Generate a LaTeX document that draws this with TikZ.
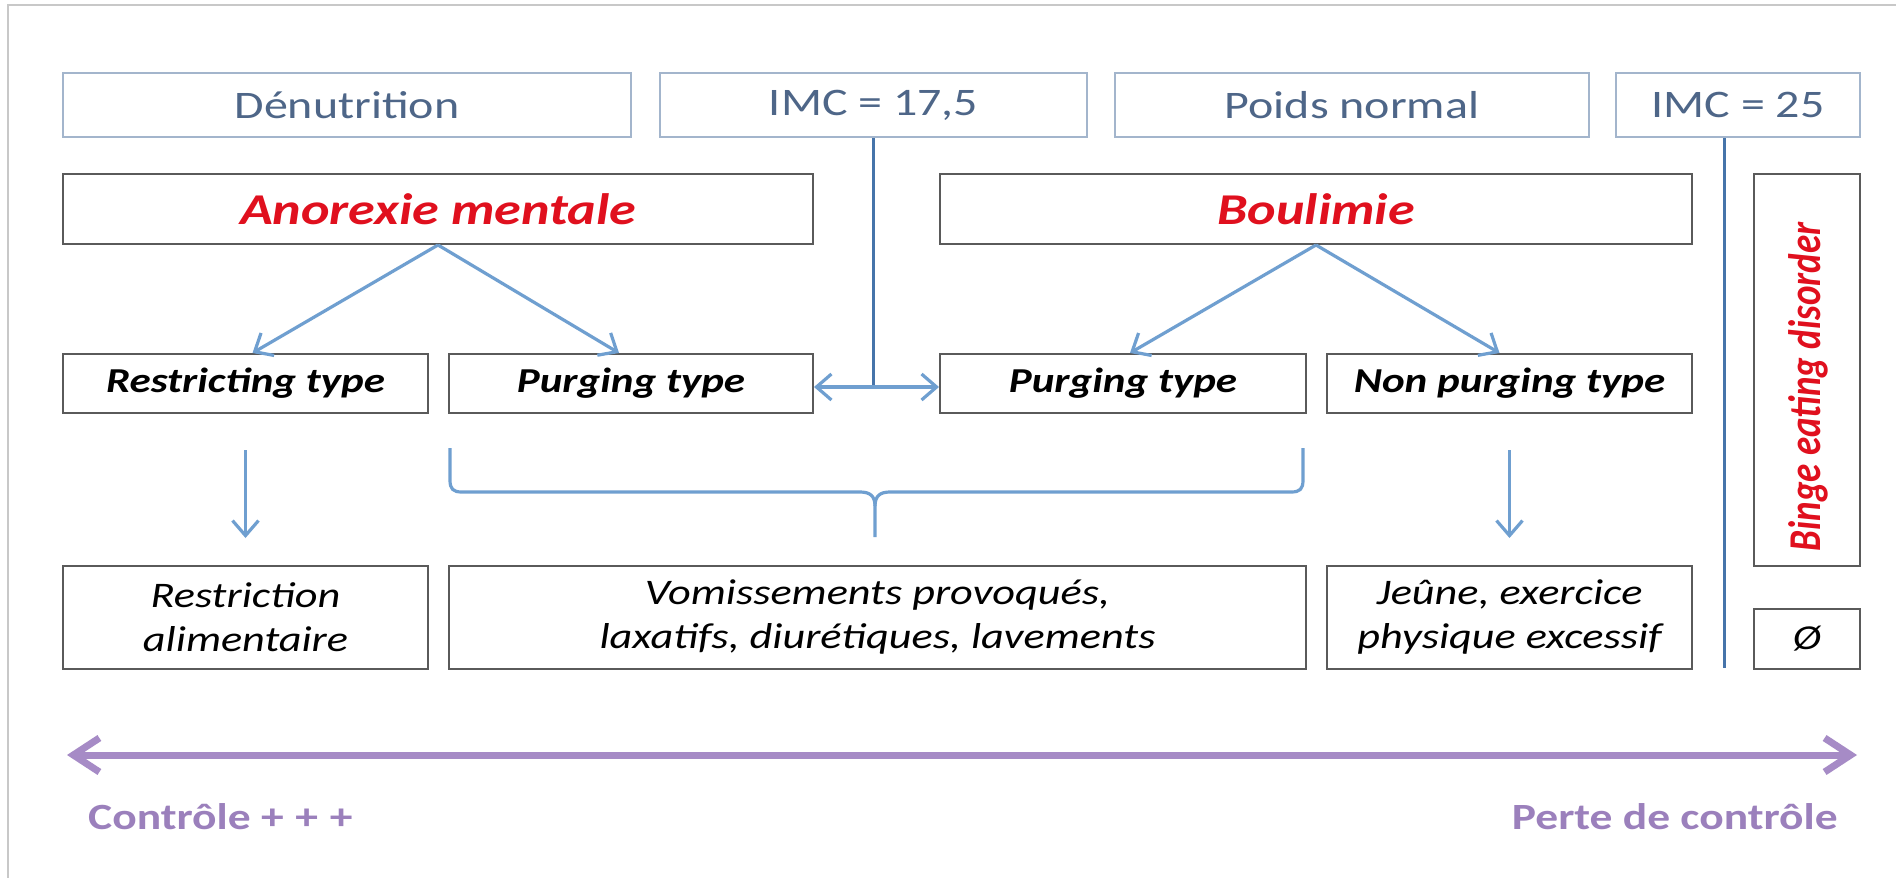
\documentclass[tikz,border=0pt]{standalone}
\usepackage{fontspec}
\usepackage{graphicx}
\setmainfont{Carlito}[FakeStretch=1.23]
\newfontfamily\bingefont{Carlito}
\usetikzlibrary{arrows.meta}
\definecolor{topline}{HTML}{A3B5CC}
\definecolor{toptext}{HTML}{4E6688}
\definecolor{boxline}{HTML}{5A5A5A}
\definecolor{redtext}{HTML}{E0101E}
\definecolor{arrblue}{HTML}{6F9FD0}
\definecolor{lineblue}{HTML}{4674AA}
\definecolor{purparr}{HTML}{A68BC6}
\definecolor{purptext}{HTML}{9B80BC}
\definecolor{framegray}{HTML}{C8C8C8}
\tikzset{
  topbox/.style={draw=topline, line width=2pt, inner sep=0pt, anchor=north west, text=toptext,
    font=\fontsize{39}{47}\selectfont, minimum height=64pt},
  titlebox/.style={draw=boxline, line width=2pt, inner sep=0pt, anchor=north west, text=redtext,
    font=\fontsize{44}{52}\selectfont\bfseries\itshape, minimum height=70pt},
  typebox/.style={draw=boxline, line width=2pt, inner sep=0pt, anchor=north west,
    font=\fontsize{35}{42}\selectfont\bfseries\itshape, minimum height=59pt},
  descbox/.style={draw=boxline, line width=2pt, inner sep=0pt, anchor=north west, align=center,
    font=\fontsize{36}{44}\selectfont\itshape, minimum height=103pt},
  arr/.style={draw=arrblue, line width=3.2pt, -{Straight Barb[length=15pt,width=26pt]}},
  darr/.style={draw=arrblue, line width=3.2pt, {Straight Barb[length=15pt,width=26pt]}-{Straight Barb[length=15pt,width=26pt]}},
  vline/.style={draw=lineblue, line width=3pt},
  bracepath/.style={draw=arrblue, line width=3.2pt},
  purpline/.style={draw=purparr, line width=7pt, {Straight Barb[length=26pt,width=34pt]}-{Straight Barb[length=26pt,width=34pt]}},
  purplabel/.style={text=purptext, inner sep=0pt, font=\fontsize{37}{44}\selectfont\bfseries},
  frameline/.style={draw=framegray, line width=1.5pt}
}
\begin{document}
\begin{tikzpicture}[x=1pt,y=-1pt]
\useasboundingbox (0,0) rectangle (1896,878);
\fill[white] (0,0) rectangle (1896,878);
\draw[frameline] (1896,5) -- (8,5) -- (8,878);
% top row
\node[topbox, minimum width=568pt] (den) at (62,72) {Dénutrition};
\node[topbox, minimum width=427pt] (imcA) at (659,72) {IMC = 17,5};
\node[topbox, minimum width=474pt] (poids) at (1114,72) {Poids normal};
\node[topbox, minimum width=244pt] (imcB) at (1615,72) {IMC = 25};
% titles
\node[titlebox, minimum width=750pt] (ano) at (62,173) {Anorexie mentale};
\node[titlebox, minimum width=752pt] (bou) at (939,173) {Boulimie};
\node[draw=boxline, line width=2pt, inner sep=0pt, anchor=north west, minimum width=106pt, minimum height=392pt] (binge) at (1753,173) {};
\node[inner sep=0pt, text=redtext] (bingetxt) at (1808,387) {\scalebox{1.23}[1]{\rotatebox{90}{\bingefont\fontsize{37}{44}\selectfont\bfseries\itshape Binge eating disorder}}};
% types
\node[typebox, minimum width=365pt] (restr) at (62,353) {Restricting type};
\node[typebox, minimum width=364pt] (purgA) at (448,353) {Purging type};
\node[typebox, minimum width=366pt] (purgB) at (939,353) {Purging type};
\node[typebox, minimum width=365pt] (nonp) at (1326,353) {Non purging type};
% descriptions
\node[descbox, minimum width=365pt] (rest2) at (62,565) {Restriction\\alimentaire};
\node[descbox, minimum width=857pt] (vom) at (448,565) {Vomissements provoqués,\\laxatifs, diurétiques, lavements};
\node[descbox, minimum width=365pt] (jeune) at (1326,565) {Jeûne, exercice\\physique excessif};
\node[draw=boxline, line width=2pt, inner sep=0pt, anchor=north west, minimum width=106pt, minimum height=60pt,
  font=\fontsize{35}{42}\selectfont\itshape] (empty) at (1753,608) {Ø};
% arrows from titles
\draw[arr] (ano.south) -- ([xshift=7pt]restr.north);
\draw[arr] (ano.south) -- ([xshift=-12pt]purgA.north);
\draw[arr] (bou.south) -- ([xshift=7pt]purgB.north);
\draw[arr] (bou.south) -- ([xshift=-10pt]nonp.north);
% IMC 17,5 line and double arrow
\coordinate (jA) at (873,387);
\draw[vline] (imcA.south -| jA) -- (jA);
\draw[darr] (purgA.east |- jA) -- (purgB.west |- jA);
% IMC 25 line
\coordinate (vB) at (1724,668);
\draw[vline] (imcB.south -| vB) -- (vB);
% down arrows
\draw[arr] (restr.south) ++(0,36) -- ++(0,88);
\draw[arr] (nonp.south) ++(0,36) -- ++(0,88);
% brace
\coordinate (bl) at (450,448);
\coordinate (br) at (1303,448);
\coordinate (bt) at (875,537);
\draw[bracepath] (bl) -- (450,480) .. controls (450,489) and (453,492) .. (462,492) -- (860,492)
  .. controls (870,492) and (875,496) .. (875,506) -- (bt);
\draw[bracepath] (br) -- (1303,480) .. controls (1303,489) and (1300,492) .. (1291,492) -- (890,492)
  .. controls (880,492) and (875,496) .. (875,506);
% purple axis
\node[purplabel, anchor=west] (ctl) at (88,817) {Contrôle +\hspace{0.32em}+\hspace{0.32em}+};
\node[purplabel, anchor=east] (perte) at (1838,817) {Perte de contrôle};
\coordinate (pl) at (67,755);
\coordinate (pr) at (1857,755);
\draw[purpline] (pl) -- (pr);
\end{tikzpicture}
\end{document}
